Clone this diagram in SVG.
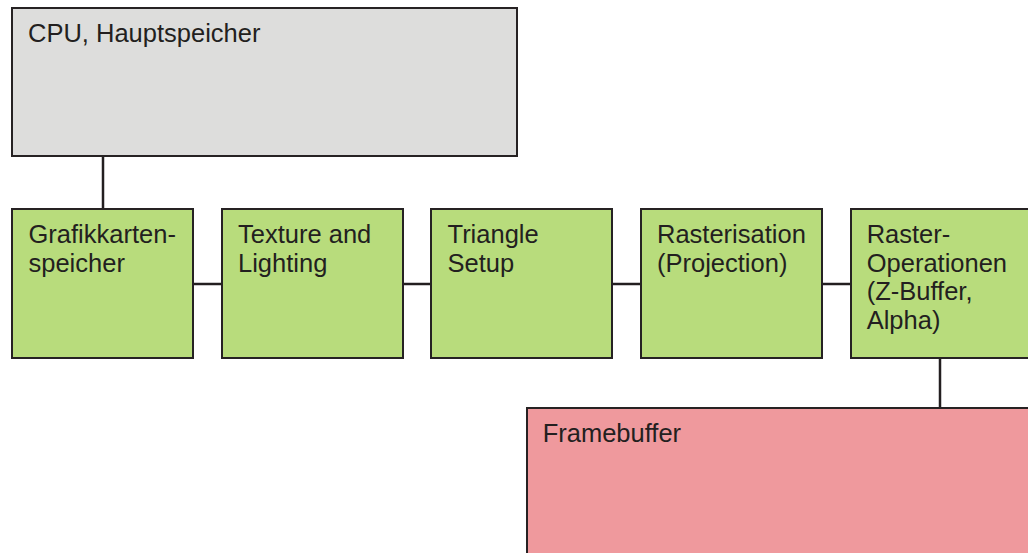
<svg xmlns="http://www.w3.org/2000/svg" width="1028" height="553" viewBox="0 0 1028 553">
<style>
  .box{stroke:#262223;stroke-width:2}
  .gray{fill:#dddddc}
  .green{fill:#b8dc7c}
  .pink{fill:#ef999d}
  .lbl{font-family:"Liberation Sans",Arial,sans-serif;font-size:25.5px;fill:#231f20}
  .conn{stroke:#231f20;stroke-width:2.5;fill:none}
</style>
<rect width="1028" height="553" fill="#ffffff"/>
<g id="connectors">
  <line class="conn" x1="103" y1="156" x2="103" y2="209"/>
  <line class="conn" x1="193" y1="284" x2="222" y2="284"/>
  <line class="conn" x1="403" y1="284" x2="431" y2="284"/>
  <line class="conn" x1="612" y1="284" x2="641" y2="284"/>
  <line class="conn" x1="822" y1="284" x2="851" y2="284"/>
  <line class="conn" x1="940" y1="358" x2="940" y2="408"/>
</g>
<g id="cpu">
  <rect class="box gray" x="12" y="8" width="505" height="148"/>
  <text class="lbl" x="28" y="42.3">CPU, Hauptspeicher</text>
</g>
<g id="grafikkartenspeicher">
  <rect class="box green" x="12" y="209" width="181" height="149"/>
  <text class="lbl" x="28.5" y="243.3">Grafikkarten-<tspan x="28.5" y="272">speicher</tspan></text>
</g>
<g id="texture">
  <rect class="box green" x="222" y="209" width="181" height="149"/>
  <text class="lbl" x="238" y="243.3">Texture and<tspan x="238" y="272">Lighting</tspan></text>
</g>
<g id="triangle">
  <rect class="box green" x="431" y="209" width="181" height="149"/>
  <text class="lbl" x="447.5" y="243.3">Triangle<tspan x="447.5" y="272">Setup</tspan></text>
</g>
<g id="rasterisation">
  <rect class="box green" x="641" y="209" width="181" height="149"/>
  <text class="lbl" x="657" y="243.3">Rasterisation<tspan x="657" y="272">(Projection)</tspan></text>
</g>
<g id="rasterops">
  <rect class="box green" x="851" y="209" width="181" height="149"/>
  <text class="lbl" x="866.7" y="242.7">Raster-<tspan x="866.7" y="271.5">Operationen</tspan><tspan x="866.7" y="300.2">(Z-Buffer,</tspan><tspan x="866.7" y="328.8">Alpha)</tspan></text>
</g>
<g id="framebuffer">
  <rect class="box pink" x="527" y="408" width="510" height="160"/>
  <text class="lbl" x="542.7" y="442.3">Framebuffer</text>
</g>
</svg>
